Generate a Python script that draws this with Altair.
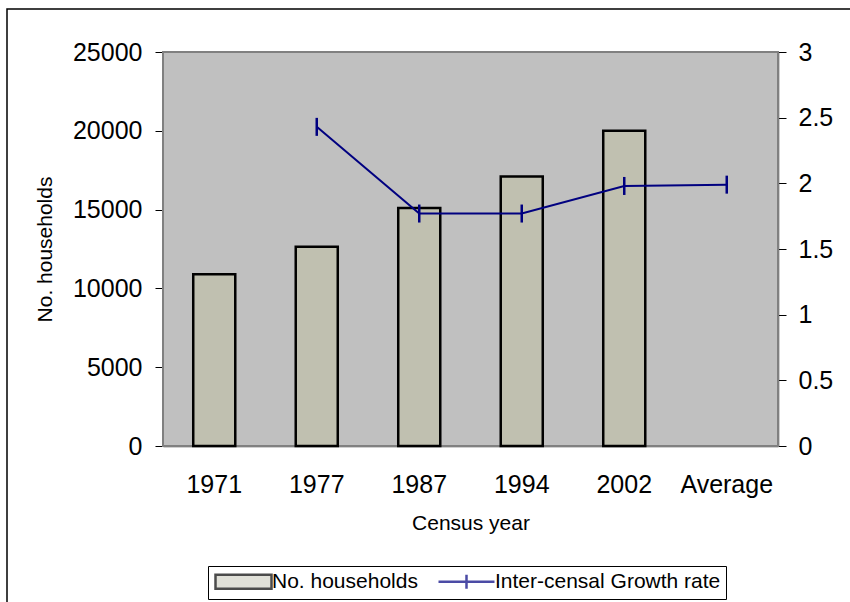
import altair as alt
import pandas as pd

# Census categories and values
years = ["1971", "1977", "1987", "1994", "2002", "Average"]
household_years = ["1971", "1977", "1987", "1994", "2002"]
households = [10900, 12650, 15100, 17100, 20000]
growth_years = ["1977", "1987", "1994", "2002", "Average"]
growth_rate = [2.43, 1.77, 1.77, 1.98, 1.99]
series_names = ["No. households", "Inter-censal Growth rate"]

FONT = "Liberation Sans"
BAR_FILL = "#c0c0b0"
NAVY = "#000080"
PLOT_BG = "#c0c0c0"

bars_df = pd.DataFrame({"year": household_years, "households": households})
growth_df = pd.DataFrame({"year": growth_years, "rate": growth_rate})
legend_df = pd.DataFrame({"series": pd.Series([], dtype=str)})
frame_df = pd.DataFrame({"k": [0]})

x_enc = alt.X(
    "year:N",
    sort=years,
    scale=alt.Scale(domain=years, paddingInner=0, paddingOuter=0),
    axis=alt.Axis(
        title="Census year",
        labelAngle=0,
        ticks=False,
        labelPadding=26,
        titlePadding=15,
        labelFontSize=25,
        titleFontSize=21,
        domainColor="#404040",
        domainWidth=1.5,
    ),
)

# Outer chart frame
frame = alt.Chart(frame_df).mark_rect(
    fillOpacity=0, stroke="black", strokeWidth=1.5
).encode(
    x=alt.value(-156), x2=alt.value(720), y=alt.value(-43), y2=alt.value(580)
)

# Grey plot area
plot_bg = alt.Chart(frame_df).mark_rect(
    fill=PLOT_BG, stroke="#808080", strokeWidth=2
).encode(
    x=alt.value(0), x2=alt.value(615), y=alt.value(0), y2=alt.value(394)
)

bars = alt.Chart(bars_df).mark_bar(
    fill=BAR_FILL, stroke="black", strokeWidth=2.5, width=alt.RelativeBandSize(0.41)
).encode(
    x=x_enc,
    y=alt.Y(
        "households:Q",
        scale=alt.Scale(domain=[0, 25000], nice=False),
        axis=alt.Axis(
            title="No. households",
            values=[0, 5000, 10000, 15000, 20000, 25000],
            format="d",
            grid=False,
            tickSize=8,
            labelPadding=13,
            titlePadding=17,
            labelFontSize=25,
            titleFontSize=21,
            domainColor="#404040",
            domainWidth=1.5,
        ),
    ),
)

y_rate = alt.Y(
    "rate:Q",
    scale=alt.Scale(domain=[0, 3], nice=False),
    axis=alt.Axis(
        orient="right",
        title=None,
        values=[0, 0.5, 1, 1.5, 2, 2.5, 3],
        format="~g",
        grid=False,
        tickSize=8,
        labelPadding=12,
        labelFontSize=25,
        domainColor="#404040",
        domainWidth=1.5,
    ),
)

line = alt.Chart(growth_df).mark_line(color=NAVY, strokeWidth=2).encode(x=x_enc, y=y_rate)

markers = alt.Chart(growth_df).mark_point(
    shape="M0,-1V1", size=324, filled=False, stroke=NAVY, strokeWidth=2.5, opacity=1
).encode(x=x_enc, y=y_rate)

legend_spec = alt.Legend(
    title=None,
    orient="none",
    legendX=45,
    legendY=514,
    direction="horizontal",
    strokeColor="black",
    fillColor="white",
    padding=5,
    columnPadding=15,
    labelFontSize=21,
    labelLimit=0,
    symbolSize=196,
    symbolStrokeWidth=2.5,
    symbolOffset=20,
    labelOffset=18,
)

legend_layer = alt.Chart(legend_df).mark_point(filled=True, strokeWidth=2.5).encode(
    fill=alt.Fill(
        "series:N",
        scale=alt.Scale(domain=series_names, range=[BAR_FILL, "transparent"]),
        legend=legend_spec,
    ),
    stroke=alt.Stroke(
        "series:N",
        scale=alt.Scale(domain=series_names, range=["black", NAVY]),
        legend=legend_spec,
    ),
    shape=alt.Shape(
        "series:N",
        scale=alt.Scale(domain=series_names, range=["M-4,-1H4V1H-4Z", "M-4,0H4M0,-1V1"]),
        legend=legend_spec,
    ),
)

growth_layer = alt.layer(line, markers, legend_layer)

chart = (
    alt.layer(frame, plot_bg, bars, growth_layer)
    .resolve_scale(y="independent")
    .properties(
        width=615,
        height=394,
        padding={"left": 163, "top": 52, "right": 72, "bottom": 156},
        autosize=alt.AutoSizeParams(type="none"),
        background="white",
    )
    .configure(font=FONT)
    .configure_view(stroke=None)
    .configure_axis(
        labelFont=FONT,
        titleFont=FONT,
        labelColor="black",
        titleColor="black",
        titleFontWeight="normal",
        tickColor="black",
    )
    .configure_legend(labelFont=FONT, labelColor="black")
)

chart.save("out.html", embed_options={"renderer": "svg", "actions": False})
